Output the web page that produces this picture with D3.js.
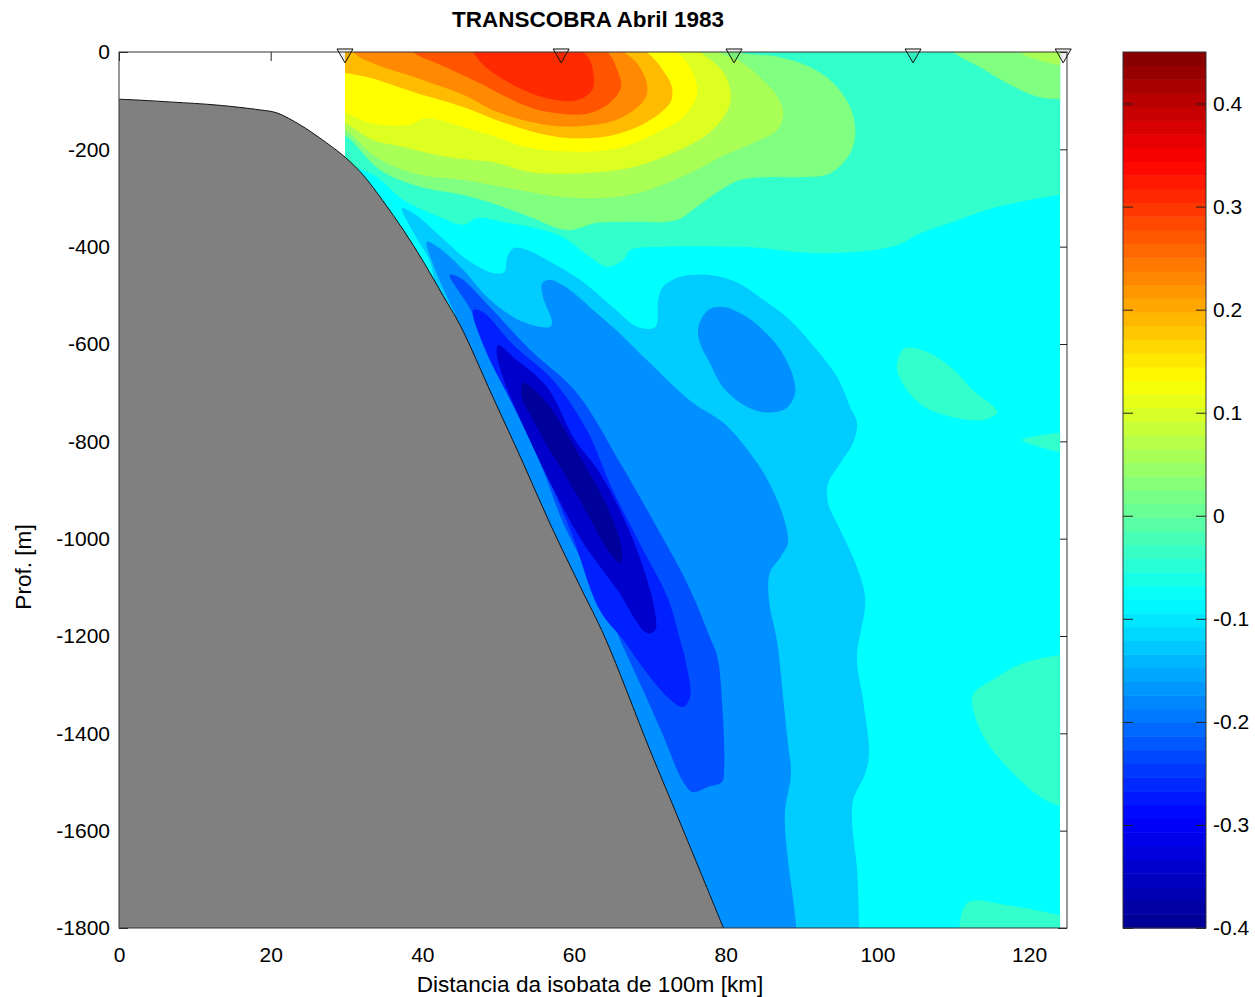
<!DOCTYPE html>
<html>
<head>
<meta charset="utf-8">
<script src="https://cdn.jsdelivr.net/npm/d3@7"></script>
<style>
  body { margin: 0; background: #fff; }
  text { font-family: "Liberation Sans", sans-serif; fill: #000; }
</style>
</head>
<body>
<svg id="chart"></svg>
<script>
const title = "TRANSCOBRA Abril 1983";
const xLabel = "Distancia da isobata de 100m [km]";
const yLabel = "Prof. [m]";

const xTicks = [0, 20, 40, 60, 80, 100, 120];
const yTicks = [0, -200, -400, -600, -800, -1000, -1200, -1400, -1600, -1800];
const barTicks = [-0.4, -0.3, -0.2, -0.1, 0, 0.1, 0.2, 0.3, 0.4];
const stations = [29.8, 58.3, 81.1, 104.7, 124.5];
const sectionExtent = [29.8, 124.1];

// jet colormap, 64 levels over -0.4..0.45
const jetStops = ["#00008f", "#0000ff", "#00ffff", "#ffff00", "#ff0000", "#800000"];
const jetPositions = [0, 0.125, 0.375, 0.625, 0.875, 1];
const barRange = [-0.4, 0.45];
const barLevels = 64;

// bottom profile [km, depth]
const bathymetry = [[0,-97],[2.8,-99],[7.1,-103],[12.9,-109],[18.6,-119],[20.8,-125],[23.9,-150],[26.5,-177],[29.8,-216],[32.2,-253],[34.8,-306],[37.5,-366],[40.1,-430],[42.7,-500],[45,-562],[49.3,-709],[53.3,-845],[56.8,-968],[60.8,-1098],[64.1,-1204],[70,-1434],[74,-1584],[79.7,-1800]];

// contour outlines [km, depth], outer band first
const tealUpper = [[28,50],[126,50],[126,-292],[124.1,-294],[118.8,-308],[114.5,-324],[110,-349],[105.6,-373],[102.6,-397],[96.8,-411],[90.2,-412],[83.6,-401],[80,-400],[71.7,-400],[67.4,-407],[66.5,-427],[64.4,-441],[62.1,-421],[58.5,-380],[54.2,-359],[51.2,-351],[47.2,-341],[45.4,-355],[42.3,-339],[37.5,-304],[34,-257],[31.5,-240],[28,-240]];
const tealMidRight = [[102.7,-633],[103.6,-608],[106.5,-616],[109.6,-647],[112.6,-695],[115.8,-740],[113.9,-756],[110.5,-752],[106.5,-732],[103.9,-695],[102.6,-653]];
const tealSmallRight = [[119.1,-797],[121.8,-787],[124.1,-783],[126,-783],[126,-825],[124.1,-822],[121.5,-812]];
const tealLowRight = [[112.6,-1321],[115.8,-1284],[119.2,-1256],[124.1,-1239],[127,-1235],[127,-1550],[124.1,-1549],[121.5,-1531],[117.9,-1482],[114.5,-1420],[112.9,-1366]];
const tealBottom = [[111.8,-1749],[117.1,-1753],[124.1,-1773],[127,-1780],[127,-1850],[111.6,-1850]];
const greenLeft = [[28,40],[76,40],[81.5,0],[86.8,-10],[91.1,-31],[94.2,-64],[96.4,-113],[97.1,-166],[96.4,-208],[93.8,-249],[90.2,-257],[85.8,-257],[81.9,-263],[79.3,-284],[76.2,-318],[73.6,-345],[67.4,-349],[63,-351],[59.1,-366],[54.2,-339],[49.8,-314],[45.4,-294],[39.7,-277],[34.4,-242],[29.8,-171],[28,-165]];
const greenRight = [[110,0],[113.5,-31],[117.1,-64],[121.1,-92],[124.1,-97],[126,-97],[126,40],[108,40]];
const limeLeft = [[28,40],[74,40],[79.3,-2],[82.3,-23],[84.9,-58],[86.8,-92],[87.6,-125],[86.8,-160],[83.6,-187],[79.3,-216],[76.2,-242],[67.4,-294],[58.5,-298],[50.6,-277],[45.4,-263],[38.8,-249],[33.5,-212],[29.8,-160],[28,-155]];
const limeRight = [[118.8,0],[121.1,-16],[124.1,-27],[126,-27],[126,40],[117,40]];
const paleYellow = [[28,40],[72,40],[76.6,0],[79.9,-47],[80.6,-105],[78.3,-160],[74,-201],[67.4,-238],[61.2,-249],[54.2,-247],[49.8,-228],[43.3,-216],[37.5,-195],[33.5,-181],[29.8,-146],[28,-140]];
const yellow = [[28,40],[69,40],[73.6,0],[75.7,-43],[76.2,-88],[74.4,-134],[70.9,-166],[66.5,-195],[60.8,-205],[54.2,-197],[49.8,-175],[45.4,-154],[40.6,-136],[38,-150],[33.1,-146],[29.8,-125],[28,-120]];
const amber = [[28,40],[65,40],[69.6,0],[71.7,-37],[72.9,-72],[72.7,-103],[69.6,-144],[65.1,-171],[59.5,-177],[55.1,-166],[49.8,-140],[45.4,-113],[38.8,-82],[33.1,-53],[29.8,-43],[28,-40]];
const orange = [[30.5,30],[62,30],[66.5,0],[68.3,-23],[69.6,-64],[69.4,-95],[66.1,-136],[61.2,-152],[56.4,-150],[49.8,-123],[45.4,-88],[38.8,-51],[33.5,-23],[30.9,0]];
const orangeRed = [[38,30],[61,30],[64.4,0],[65.7,-37],[66.2,-72],[64.7,-105],[61.7,-127],[56.4,-123],[52.5,-103],[47.6,-64],[41.9,-23],[38.8,0]];
const red = [[46,30],[59,30],[61.2,0],[62.1,-16],[62.6,-51],[62.4,-78],[60.4,-99],[56.4,-95],[52.5,-72],[48.5,-33],[46.7,0]];
const skyBlue = [[37.3,-321],[38.8,-331],[43.3,-392],[45.9,-427],[49.3,-454],[50.8,-452],[51.2,-421],[52,-403],[53.8,-407],[57.2,-434],[60.8,-468],[65.1,-524],[68.4,-565],[70.7,-565],[71.1,-510],[71.7,-483],[74,-462],[77.9,-458],[81.5,-473],[84.5,-504],[88.5,-551],[92,-612],[94.7,-668],[96.4,-729],[97.3,-762],[96.8,-803],[95.1,-845],[93.5,-886],[93.5,-927],[95.1,-982],[97.3,-1058],[98.4,-1126],[97.3,-1243],[98.1,-1331],[98.9,-1440],[98.4,-1482],[96.8,-1537],[96.7,-1592],[97.3,-1675],[97.6,-1800],[97.7,-1850],[60,-1850],[42,-520],[41,-431],[39,-376]];
const midBlue = [[40.6,-390],[42.1,-401],[45.4,-448],[48.9,-509],[53.3,-555],[56.8,-565],[57.1,-555],[55.9,-503],[55.8,-475],[56.8,-468],[59.1,-485],[62.5,-530],[65.1,-565],[69.6,-633],[72.7,-680],[75.7,-721],[79.7,-762],[83.2,-824],[85.5,-879],[87.6,-955],[88.2,-1009],[87.2,-1038],[85.8,-1071],[85.7,-1126],[86.8,-1214],[87.6,-1331],[88.2,-1420],[88.6,-1482],[87.8,-1564],[88.1,-1646],[88.9,-1742],[89.3,-1800],[89.4,-1850],[62,-1850],[46,-620],[45.2,-571],[43.3,-505],[41.7,-448]];
const midBlueBlob = [[76.4,-565],[77.7,-530],[79.7,-524],[82.3,-540],[84.9,-571],[87.2,-612],[88.9,-668],[89.1,-705],[87.8,-734],[84.9,-740],[82.3,-725],[79.7,-690],[77.9,-639],[76.6,-598]];
const deepBlue = [[43.6,-458],[45,-464],[48.9,-524],[54.2,-612],[60.4,-701],[66.1,-845],[70.4,-962],[74.9,-1091],[77.9,-1202],[78.9,-1243],[79.5,-1331],[79.8,-1469],[79.5,-1500],[77.7,-1510],[75.7,-1521],[74.4,-1500],[71.7,-1403],[69.1,-1311],[66.5,-1223],[63.8,-1126],[58.8,-976],[55.9,-859],[52,-715],[48.5,-592],[46,-520]];
const pureBlue = [[46.7,-530],[48,-534],[52,-602],[57.2,-674],[61.7,-777],[65.1,-900],[69.1,-1023],[72.3,-1120],[74,-1208],[74.9,-1264],[75.3,-1325],[74.4,-1346],[72.7,-1331],[69.6,-1276],[66.5,-1208],[63.4,-1147],[59.5,-982],[55.5,-838],[51.6,-715],[48.3,-612]];
const darkBlue = [[50,-602],[52,-627],[56.4,-688],[60.1,-797],[63.4,-865],[66.5,-956],[69.1,-1058],[70.7,-1153],[70.7,-1188],[69.6,-1194],[65.7,-1105],[61.2,-1009],[57.8,-914],[54.6,-812],[50.6,-668],[49.8,-618]];
const navy = [[53.3,-680],[56.4,-721],[60.8,-832],[64.4,-935],[66.3,-1023],[66.1,-1050],[64.7,-1029],[61.7,-947],[59.2,-879],[56.8,-818],[54.6,-756],[53.1,-709]];

// band values
const backgroundValue = -0.081;
const bandValues = [-0.039, 0.025, 0.06, 0.103, 0.131, 0.188, 0.23, 0.273, 0.309, -0.124, -0.174, -0.227, -0.267, -0.342, -0.39];
const bandOutlines = [
  [tealUpper, tealMidRight, tealSmallRight, tealLowRight, tealBottom],
  [greenLeft, greenRight],
  [limeLeft, limeRight],
  [paleYellow],
  [yellow],
  [amber],
  [orange],
  [orangeRed],
  [red],
  [skyBlue],
  [midBlue, midBlueBlob],
  [deepBlue],
  [pureBlue],
  [darkBlue],
  [navy]
];

const width = 1255;
const height = 997;
const margin = { top: 52, left: 119, bottom: 69, right: 188 };

const svg = d3.select("#chart").attr("width", width).attr("height", height);

//set up scales
const xScale = d3.scaleLinear().domain([0, 125]).range([margin.left, width - margin.right]);
const yScale = d3.scaleLinear().domain([0, -1800]).range([margin.top, height - margin.bottom]);
const barScale = d3.scaleLinear().domain(barRange).range([928, 52]);
const jet = d3.scaleLinear().domain(jetPositions).range(jetStops);
const colorOf = v => jet((v - barRange[0]) / (barRange[1] - barRange[0]));

const noLabel = () => "";
const plain = d => String(d);

//axes go under the section so the fill hides their ticks
svg.append("g").attr("class", "axis")
  .attr("transform", `translate(0,${yScale(-1800)})`)
  .call(d3.axisBottom(xScale).tickValues(xTicks).tickSizeInner(-9).tickSizeOuter(0).tickPadding(19).tickFormat(plain));
svg.append("g").attr("class", "axis")
  .attr("transform", `translate(0,${yScale(0)})`)
  .call(d3.axisTop(xScale).tickValues(xTicks).tickSizeInner(-9).tickSizeOuter(0).tickFormat(noLabel));
svg.append("g").attr("class", "axis")
  .attr("transform", `translate(${xScale(0)},0)`)
  .call(d3.axisLeft(yScale).tickValues(yTicks).tickSizeInner(-9).tickSizeOuter(0).tickPadding(9).tickFormat(plain));
svg.append("g").attr("class", "axis")
  .attr("transform", `translate(${xScale(125)},0)`)
  .call(d3.axisRight(yScale).tickValues(yTicks).tickSizeInner(-9).tickSizeOuter(0).tickFormat(noLabel));
svg.selectAll(".axis .domain").remove();
svg.selectAll(".axis text").style("font-size", "21px").attr("fill", "#000");
svg.selectAll(".axis line").attr("stroke", "#222");

//clip to the sampled part of the section
svg.append("clipPath").attr("id", "section")
  .append("rect")
  .attr("x", xScale(sectionExtent[0]))
  .attr("y", yScale(0))
  .attr("width", xScale(sectionExtent[1]) - xScale(sectionExtent[0]))
  .attr("height", yScale(-1800) - yScale(0));

const outline = d3.line()
  .x(d => xScale(d[0]))
  .y(d => yScale(d[1]))
  .curve(d3.curveCatmullRomClosed.alpha(0.5));

const section = svg.append("g").attr("clip-path", "url(#section)");
section.append("rect")
  .attr("x", xScale(sectionExtent[0]))
  .attr("y", yScale(0))
  .attr("width", xScale(sectionExtent[1]) - xScale(sectionExtent[0]))
  .attr("height", yScale(-1800) - yScale(0))
  .attr("fill", colorOf(backgroundValue));

bandOutlines.forEach((rings, i) => {
  section.selectAll(null)
    .data(rings)
    .enter()
    .append("path")
    .attr("d", outline)
    .attr("fill", colorOf(bandValues[i]));
});

//bottom
const bottomCurve = d3.curveCatmullRom.alpha(0.5);
svg.append("path")
  .datum(bathymetry)
  .attr("d", d3.area().x(d => xScale(d[0])).y0(yScale(-1800)).y1(d => yScale(d[1])).curve(bottomCurve))
  .attr("fill", "#808080");
svg.append("path")
  .datum(bathymetry)
  .attr("d", d3.line().x(d => xScale(d[0])).y(d => yScale(d[1])).curve(bottomCurve))
  .attr("fill", "none")
  .attr("stroke", "#111")
  .attr("stroke-width", 1);

//box
svg.append("rect")
  .attr("x", xScale(0))
  .attr("y", yScale(0))
  .attr("width", xScale(125) - xScale(0))
  .attr("height", yScale(-1800) - yScale(0))
  .attr("fill", "none")
  .attr("stroke", "#333")
  .attr("stroke-width", 1);

//stations
svg.selectAll(".station")
  .data(stations)
  .enter()
  .append("path")
  .attr("class", "station")
  .attr("d", d3.symbol(d3.symbolTriangle, 111))
  .attr("transform", d => `translate(${xScale(d)},${yScale(0) + 1.6}) rotate(180)`)
  .attr("fill", "#000")
  .attr("fill-opacity", 0.07)
  .attr("stroke", "#111")
  .attr("stroke-width", 1);

//colorbar
const barBands = d3.range(barLevels);
const barStep = (barRange[1] - barRange[0]) / barLevels;
const barX = 1123;
const barWidth = 83;
svg.selectAll(".band")
  .data(barBands)
  .enter()
  .append("rect")
  .attr("class", "band")
  .attr("x", barX)
  .attr("y", d => barScale(barRange[0] + (d + 1) * barStep))
  .attr("width", barWidth)
  .attr("height", d => barScale(barRange[0] + d * barStep) - barScale(barRange[0] + (d + 1) * barStep) + 0.5)
  .attr("fill", d => jet((d + 0.5) / barLevels));

const barAxis = svg.append("g")
  .attr("transform", `translate(${barX + barWidth},0)`)
  .call(d3.axisRight(barScale).tickValues(barTicks).tickSizeInner(-10).tickSizeOuter(0).tickPadding(7).tickFormat(plain));
barAxis.select(".domain").remove();
barAxis.selectAll("text").style("font-size", "21px");
barAxis.selectAll("line").attr("stroke", "#222");
svg.append("g")
  .attr("transform", `translate(${barX},0)`)
  .call(d3.axisLeft(barScale).tickValues(barTicks).tickSizeInner(-10).tickSizeOuter(0).tickFormat(noLabel))
  .call(g => g.select(".domain").remove())
  .selectAll("line").attr("stroke", "#222");
svg.append("rect")
  .attr("x", barX)
  .attr("y", 52)
  .attr("width", barWidth)
  .attr("height", 876)
  .attr("fill", "none")
  .attr("stroke", "#333")
  .attr("stroke-width", 1);

//labels
svg.append("text")
  .attr("x", 588)
  .attr("y", 27)
  .attr("text-anchor", "middle")
  .style("font-size", "22.5px")
  .style("font-weight", "bold")
  .text(title);
svg.append("text")
  .attr("x", 590)
  .attr("y", 992)
  .attr("text-anchor", "middle")
  .style("font-size", "22.6px")
  .text(xLabel);
svg.append("text")
  .attr("transform", "translate(31,567) rotate(-90)")
  .attr("text-anchor", "middle")
  .style("font-size", "22.6px")
  .text(yLabel);
</script>
</body>
</html>
